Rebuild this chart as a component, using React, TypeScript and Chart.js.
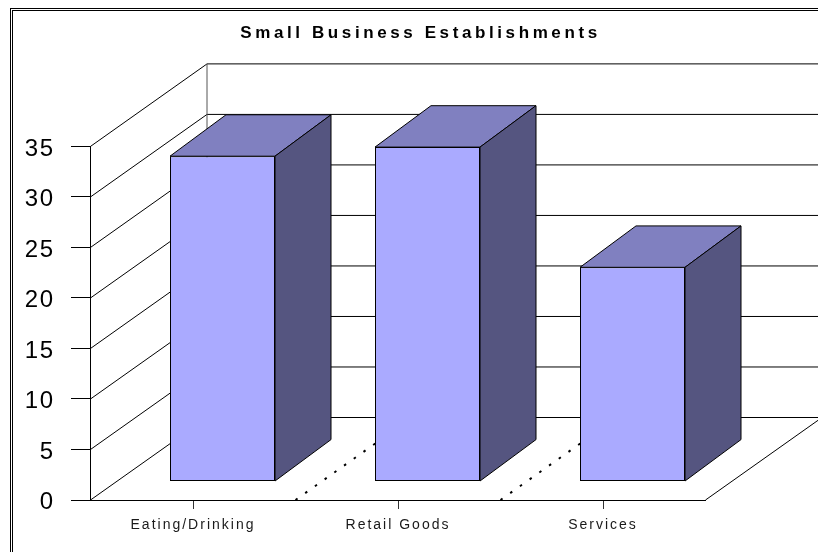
import React, { useEffect, useRef } from "react";
import { Chart, registerables } from "chart.js";

Chart.register(...registerables);

const titleText = "Small Business Establishments";
const categories = ["Eating/Drinking", "Retail Goods", "Services"];
const establishments = [32.2, 33.1, 21.2];
const yMax = 35;
const yStep = 5;

const FONT = "'Liberation Sans', Arial, sans-serif";

// Projection of the 3D box: how far the back wall sits from the front plane,
// where a bar's front face sits, and how deep each bar runs.
const WALL_DX = 116.5;
const WALL_DY = -82.5;
const BAR_DX = 29.5;
const BAR_DY = -18.5;
const BAR_DEPTH_DX = 56;
const BAR_DEPTH_DY = -41.4;

const LINE = "#000000";
const FACE = "#AAAAFF";
const TOP = "#8080C0";
const SIDE = "#555580";

const polygon = (ctx: CanvasRenderingContext2D, pts: number[][], fill: string) => {
  ctx.beginPath();
  pts.forEach(([x, y], i) => (i ? ctx.lineTo(x, y) : ctx.moveTo(x, y)));
  ctx.closePath();
  ctx.fillStyle = fill;
  ctx.fill();
  ctx.strokeStyle = LINE;
  ctx.lineWidth = 1;
  ctx.stroke();
};

const segment = (ctx: CanvasRenderingContext2D, x0: number, y0: number, x1: number, y1: number) => {
  ctx.beginPath();
  ctx.moveTo(x0, y0);
  ctx.lineTo(x1, y1);
  ctx.stroke();
};

// Runs a text drawing method with the canvas letter spacing set for the duration.
const withSpacing = (target: any, method: string, spacing: string, dy = 0) => {
  const original = target[method];
  target[method] = function (...args: unknown[]) {
    const ctx: any = target.ctx;
    ctx.save();
    ctx.letterSpacing = spacing;
    ctx.translate(0, dy);
    original.apply(target, args);
    ctx.restore();
  };
};

const boxPlugin = {
  id: "box3d",
  afterLayout(chart: any) {
    // The title is centred on the outer frame, which starts at the left margin.
    chart.titleBlock.left = 23;
    chart.titleBlock.right = 818;
    if (!chart.$spaced) {
      chart.$spaced = true;
      withSpacing(chart.titleBlock, "draw", "3.6px");
      withSpacing(chart.scales.x, "drawLabels", "2px");
      withSpacing(chart.scales.y, "drawLabels", "1.8px", 2.5);
    }
  },
  beforeDraw(chart: any) {
    const { ctx } = chart;
    ctx.save();
    // Double outer frame.
    ctx.fillStyle = LINE;
    ctx.fillRect(10, 8, 820, 1);
    ctx.fillRect(10, 8, 1, 560);
    ctx.fillRect(12, 10, 820, 1);
    ctx.fillRect(12, 10, 1, 560);
    ctx.restore();
  },
  beforeDatasetsDraw(chart: any) {
    const { ctx, chartArea, scales } = chart;
    const { left, right } = chartArea;
    const y = scales.y;
    ctx.save();
    ctx.strokeStyle = LINE;
    ctx.lineWidth = 1;
    // Side wall diagonals and back wall grid lines.
    for (let v = 0; v <= yMax; v += yStep) {
      const py = y.getPixelForValue(v);
      segment(ctx, left, py, left + WALL_DX, py + WALL_DY);
      segment(ctx, left + WALL_DX, py + WALL_DY, right + WALL_DX, py + WALL_DY);
    }
    ctx.strokeStyle = "#555555";
    segment(ctx, left + WALL_DX, y.getPixelForValue(yMax) + WALL_DY, left + WALL_DX, y.getPixelForValue(0) + WALL_DY);
    // Floor edge.
    ctx.strokeStyle = LINE;
    const floor = y.getPixelForValue(0);
    segment(ctx, right, floor, right + WALL_DX, floor + WALL_DY);
    // Dotted floor dividers between categories.
    const slot = (right - left) / categories.length;
    ctx.setLineDash([2.5, 9.4]);
    ctx.lineWidth = 2;
    for (let i = 1; i < categories.length; i++) {
      const x = left + slot * i;
      segment(ctx, x, floor, x + WALL_DX, floor + WALL_DY);
    }
    ctx.restore();
  },
  beforeDatasetDraw(chart: any, args: any) {
    const { ctx } = chart;
    ctx.save();
    ctx.translate(BAR_DX, BAR_DY);
    // Top and side faces of each bar, behind the front face the bar element draws.
    chart.getDatasetMeta(args.index).data.forEach((bar: any) => {
      const l = bar.x - bar.width / 2;
      const r = bar.x + bar.width / 2;
      const t = bar.y;
      const b = bar.base;
      polygon(ctx, [[l, t], [l + BAR_DEPTH_DX, t + BAR_DEPTH_DY], [r + BAR_DEPTH_DX, t + BAR_DEPTH_DY], [r, t]], TOP);
      polygon(ctx, [[r, t], [r + BAR_DEPTH_DX, t + BAR_DEPTH_DY], [r + BAR_DEPTH_DX, b + BAR_DEPTH_DY], [r, b]], SIDE);
    });
  },
  afterDatasetDraw(chart: any) {
    chart.ctx.restore();
  },
};

export default function App() {
  const ref = useRef<HTMLCanvasElement>(null);

  useEffect(() => {
    const chart = new Chart(ref.current!, {
      type: "bar",
      data: {
        labels: categories,
        datasets: [
          {
            data: establishments,
            backgroundColor: FACE,
            borderColor: LINE,
            borderWidth: 1,
            borderSkipped: false,
            categoryPercentage: 1,
            barPercentage: 105 / 205,
            clip: false,
          },
        ],
      },
      options: {
        responsive: false,
        animation: false,
        events: [],
        layout: { padding: { left: 0, right: 112.5, top: 0, bottom: 0 } },
        plugins: {
          legend: { display: false },
          tooltip: { enabled: false },
          title: {
            display: true,
            text: titleText,
            color: "#000000",
            font: { family: FONT, size: 17, weight: "bold" },
            padding: { top: 23, bottom: 103 },
          },
        },
        scales: {
          x: {
            grid: {
              offset: false,
              drawOnChartArea: false,
              drawTicks: true,
              tickLength: 9,
              color: "#333333",
            },
            border: { display: true, color: LINE },
            ticks: {
              color: "#1a1a1a",
              font: { family: FONT, size: 14 },
              maxRotation: 0,
              padding: 8,
            },
            afterFit: (s: any) => {
              s.height = 52;
            },
          },
          y: {
            min: 0,
            max: yMax,
            grid: {
              drawOnChartArea: false,
              drawTicks: true,
              tickLength: 19.5,
              color: LINE,
            },
            border: { display: true, color: LINE },
            ticks: {
              stepSize: yStep,
              color: "#000000",
              font: { family: FONT, size: 24 },
              padding: 16,
            },
            afterFit: (s: any) => {
              s.width = 90.5;
            },
          },
        },
      },
      plugins: [boxPlugin],
    } as any);
    return () => chart.destroy();
  }, []);

  return (
    <div style={{ position: "fixed", left: 0, top: 0, width: 818, height: 552, background: "#fff" }}>
      <canvas ref={ref} width={818} height={552} style={{ display: "block" }} />
    </div>
  );
}
